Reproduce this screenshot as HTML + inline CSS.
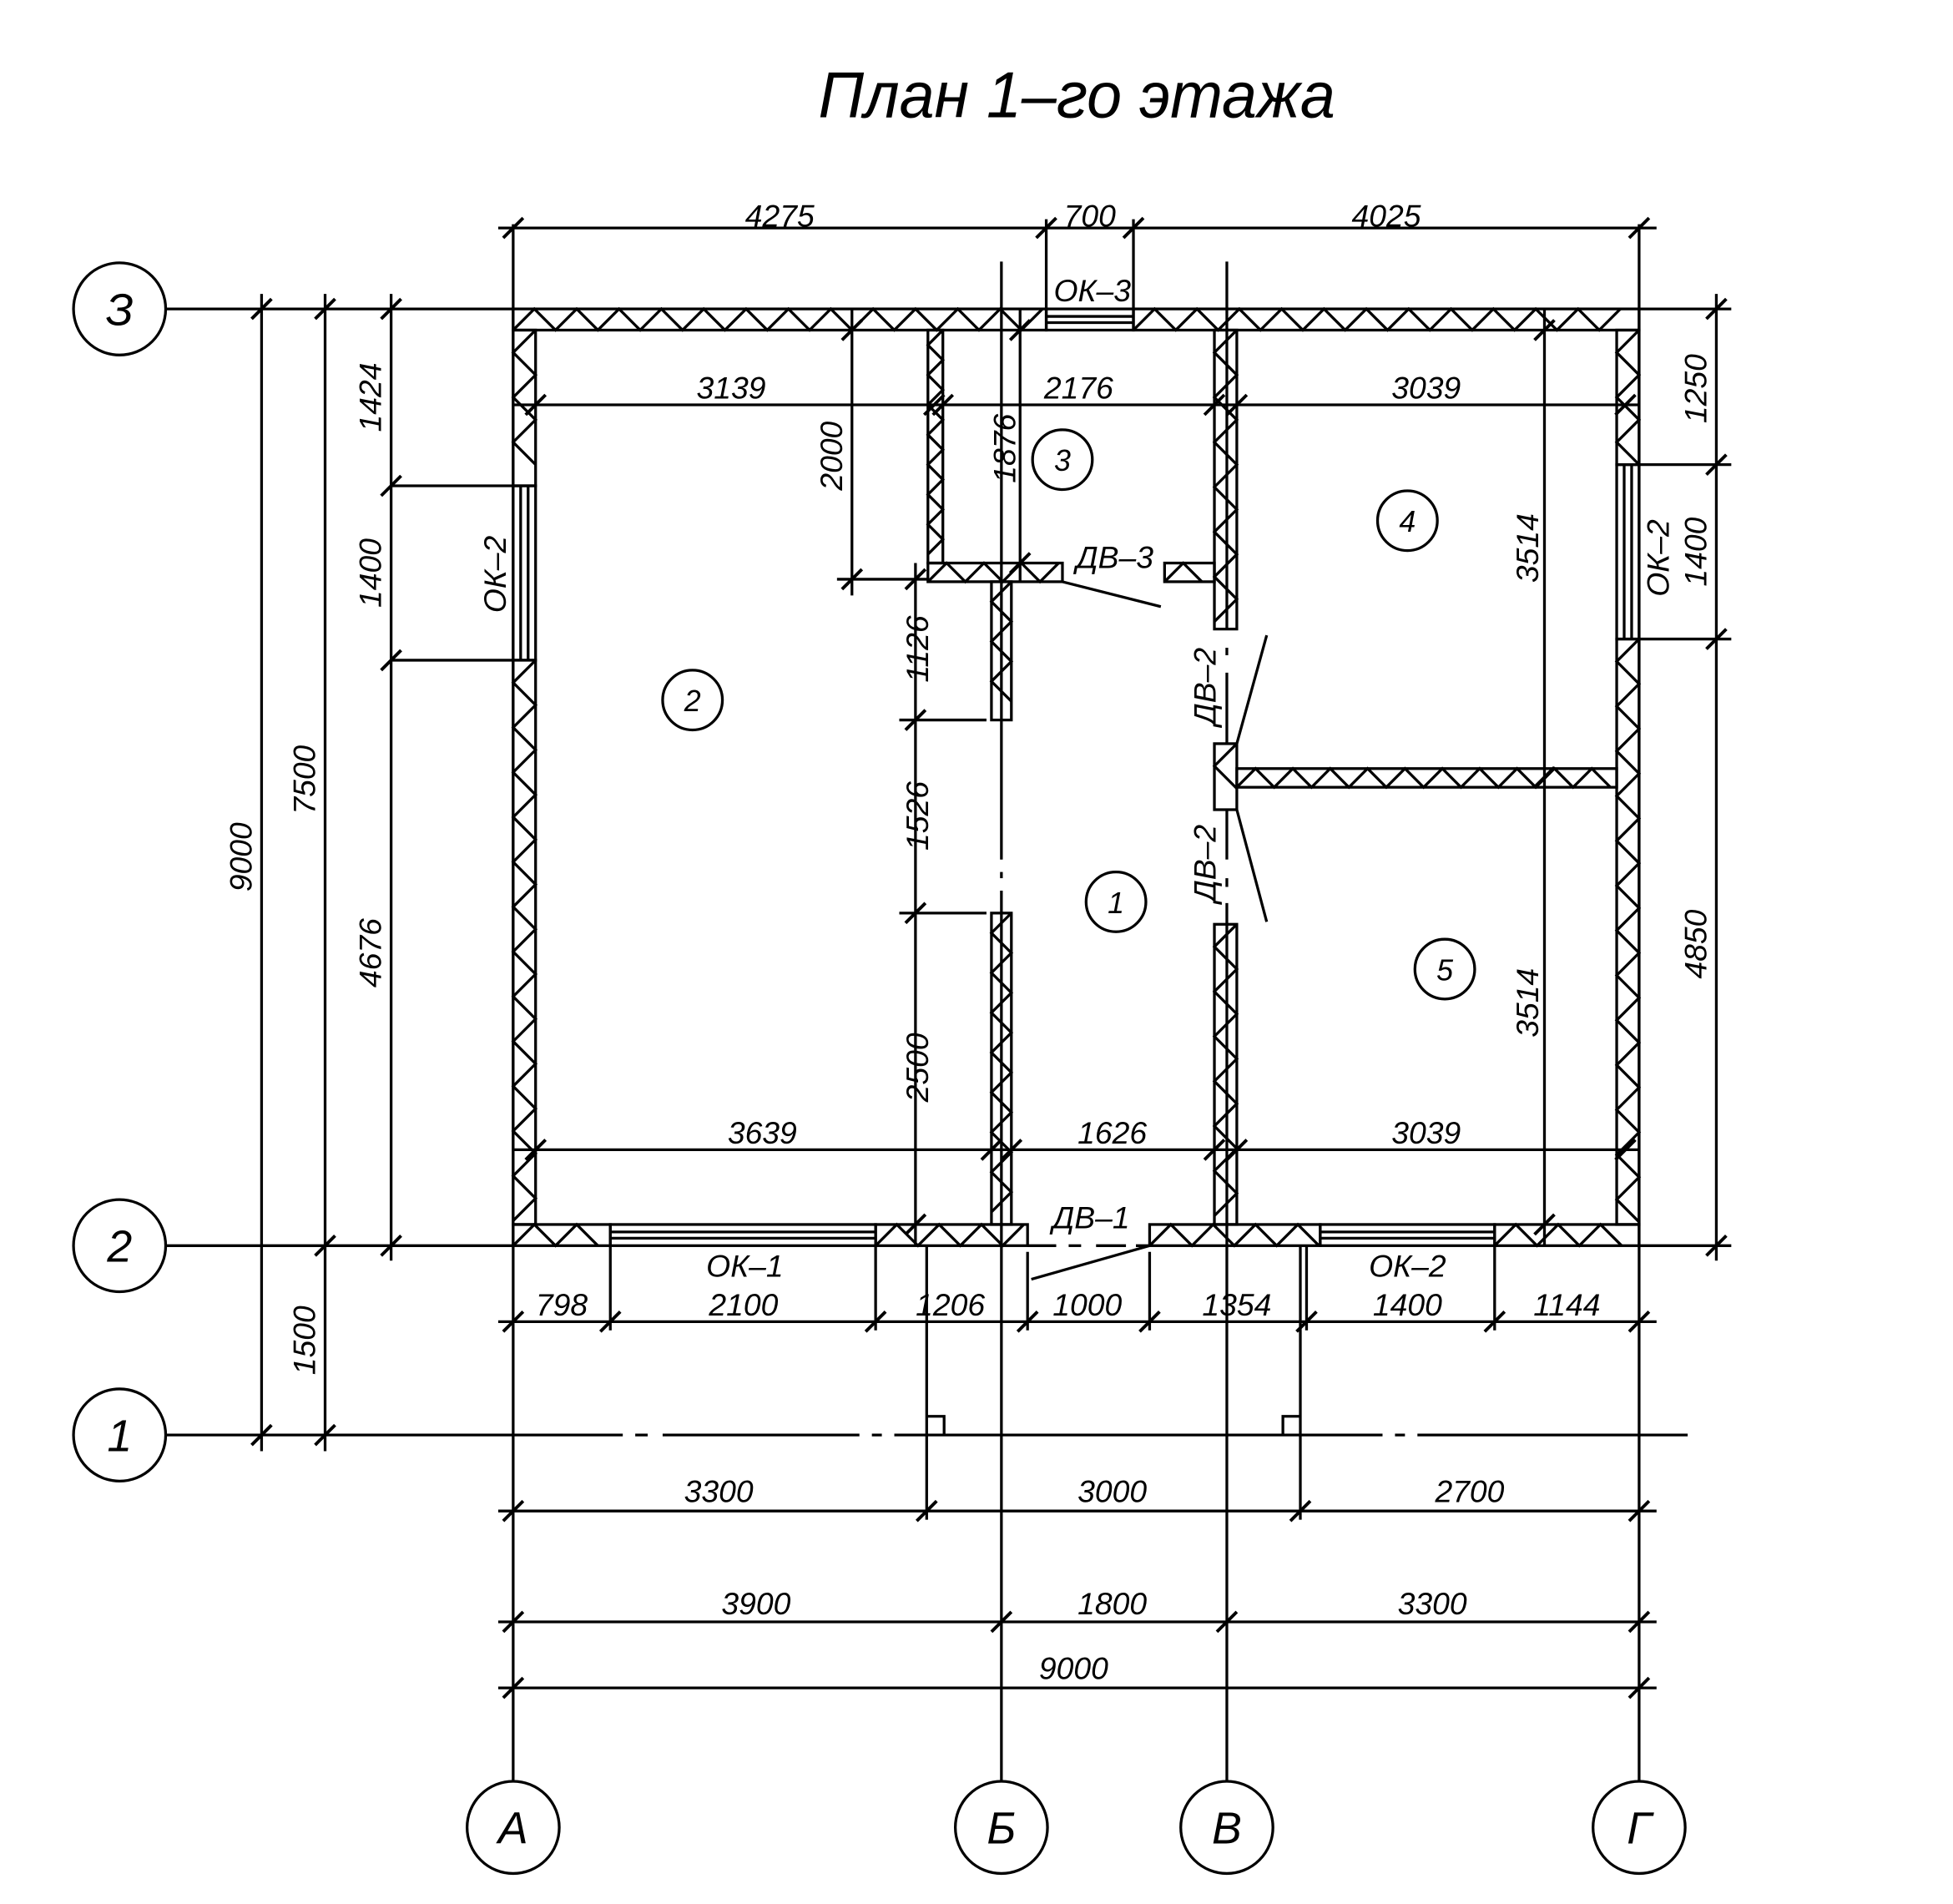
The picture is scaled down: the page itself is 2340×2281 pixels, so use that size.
<!DOCTYPE html>
<html><head><meta charset="utf-8"><style>
html,body{margin:0;padding:0;background:#fff;}
svg{display:block}
text{font-family:"Liberation Sans",sans-serif;font-style:italic;fill:#000;}
</style></head><body>
<svg id="s" width="2340" height="2281" viewBox="0 0 1568 1528.5" xmlns="http://www.w3.org/2000/svg">
<rect width="1568" height="1529" fill="#fff"/>
<g id="g" stroke="#000" stroke-width="2.2" fill="none" stroke-linecap="butt">
<line x1="412" y1="180" x2="412" y2="1430"/>
<line x1="804" y1="210" x2="804" y2="690"/><line x1="804" y1="700" x2="804" y2="705"/><line x1="804" y1="715" x2="804" y2="1430"/>
<line x1="985" y1="210" x2="985" y2="505"/><line x1="985" y1="520" x2="985" y2="526"/><line x1="985" y1="540" x2="985" y2="597"/><line x1="985" y1="650" x2="985" y2="690"/><line x1="985" y1="705" x2="985" y2="712"/><line x1="985" y1="725" x2="985" y2="1430"/>
<line x1="1316" y1="180" x2="1316" y2="1430"/>
<line x1="133" y1="248" x2="412" y2="248"/><line x1="1316" y1="248" x2="1390" y2="248"/>
<line x1="133" y1="1000" x2="412" y2="1000"/><line x1="1316" y1="1000" x2="1390" y2="1000"/>
<line x1="133" y1="1152" x2="500" y2="1152"/><line x1="510" y1="1152" x2="520" y2="1152"/><line x1="532" y1="1152" x2="690" y2="1152"/><line x1="700" y1="1152" x2="708" y2="1152"/><line x1="718" y1="1152" x2="1110" y2="1152"/><line x1="1120" y1="1152" x2="1128" y2="1152"/><line x1="1138" y1="1152" x2="1355" y2="1152"/>
<circle cx="96" cy="248" r="37"/><circle cx="96" cy="1000" r="37"/><circle cx="96" cy="1152" r="37"/>
<circle cx="412" cy="1467" r="37"/><circle cx="804" cy="1467" r="37"/><circle cx="985" cy="1467" r="37"/><circle cx="1316" cy="1467" r="37"/>
<circle cx="556" cy="562" r="24"/><circle cx="853" cy="369" r="24"/><circle cx="1130" cy="418" r="24"/><circle cx="896" cy="724" r="24"/><circle cx="1160" cy="778" r="24"/>
<line x1="400" y1="183" x2="1330" y2="183"/>
<line x1="840" y1="176" x2="840" y2="248"/><line x1="910" y1="176" x2="910" y2="248"/>
<line x1="210" y1="236" x2="210" y2="1165"/>
<line x1="261" y1="236" x2="261" y2="1165"/>
<line x1="314" y1="236" x2="314" y2="1012"/>
<line x1="314" y1="390" x2="412" y2="390"/><line x1="314" y1="530" x2="412" y2="530"/>
<line x1="1378" y1="236" x2="1378" y2="1012"/>
<line x1="1316" y1="373" x2="1390" y2="373"/><line x1="1316" y1="513" x2="1390" y2="513"/>
<line x1="400" y1="1061" x2="1330" y2="1061"/>
<line x1="490" y1="1000" x2="490" y2="1068"/><line x1="703" y1="1000" x2="703" y2="1068"/><line x1="825" y1="1005" x2="825" y2="1068"/><line x1="923" y1="1005" x2="923" y2="1068"/><line x1="1049" y1="1000" x2="1049" y2="1068"/><line x1="1200" y1="1000" x2="1200" y2="1068"/>
<line x1="744" y1="1000" x2="744" y2="1220"/><line x1="1044" y1="1000" x2="1044" y2="1220"/>
<polyline points="744,1137 758,1137 758,1152"/><polyline points="1044,1137 1030,1137 1030,1152"/>
<line x1="400" y1="1213" x2="1330" y2="1213"/>
<line x1="400" y1="1302" x2="1330" y2="1302"/>
<line x1="400" y1="1355" x2="1330" y2="1355"/>
<line x1="412" y1="325" x2="1316" y2="325"/>
<line x1="412" y1="923" x2="1316" y2="923"/>
<line x1="684" y1="248" x2="684" y2="478"/><line x1="672" y1="465" x2="745" y2="465"/>
<line x1="735" y1="452" x2="735" y2="1000"/><line x1="722" y1="578" x2="792" y2="578"/><line x1="722" y1="733" x2="792" y2="733"/>
<line x1="819" y1="248" x2="819" y2="467"/>
<line x1="1240" y1="248" x2="1240" y2="1000"/>
<line x1="853" y1="467" x2="932" y2="487"/>
<line x1="1017" y1="510" x2="993" y2="597"/>
<line x1="993" y1="650" x2="1017" y2="740"/>
<line x1="828" y1="1027" x2="923" y2="1000"/>
<line x1="825" y1="1000" x2="848" y2="1000"/><line x1="858" y1="1000" x2="868" y2="1000"/><line x1="880" y1="1000" x2="904" y2="1000"/><line x1="912" y1="1000" x2="923" y2="1000"/>
<rect x="412" y="390" width="18" height="140"/><line x1="418" y1="390" x2="418" y2="530"/><line x1="424" y1="390" x2="424" y2="530"/>
<rect x="1298" y="373" width="18" height="140"/><line x1="1304" y1="373" x2="1304" y2="513"/><line x1="1310" y1="373" x2="1310" y2="513"/>
<rect x="840" y="248" width="70" height="17"/><line x1="840" y1="254" x2="910" y2="254"/><line x1="840" y1="259" x2="910" y2="259"/>
<rect x="490" y="983" width="213" height="17"/><line x1="490" y1="989" x2="703" y2="989"/><line x1="490" y1="994" x2="703" y2="994"/>
<rect x="1060" y="983" width="140" height="17"/><line x1="1060" y1="989" x2="1200" y2="989"/><line x1="1060" y1="994" x2="1200" y2="994"/>
</g>
<g font-size="25" text-anchor="middle">
<text x="657" y="94" font-size="52" text-anchor="start" textLength="415" lengthAdjust="spacingAndGlyphs">План 1–го этажа</text>
<text x="626" y="182">4275</text><text x="875" y="182">700</text><text x="1113" y="182">4025</text>
<text x="877" y="242">ОК–3</text>
<text x="587" y="320">3139</text><text x="866" y="320">2176</text><text x="1145" y="320">3039</text>
<text x="612" y="918">3639</text><text x="893" y="918">1626</text><text x="1145" y="918">3039</text>
<text x="895" y="456">ДВ–3</text><text x="876" y="986">ДВ–1</text>
<text x="598" y="1025">ОК–1</text><text x="1130" y="1025">ОК–2</text>
<text x="451" y="1056">798</text><text x="597" y="1056">2100</text><text x="763" y="1056">1206</text><text x="873" y="1056">1000</text><text x="993" y="1056">1354</text><text x="1130" y="1056">1400</text><text x="1258" y="1056">1144</text>
<text x="577" y="1206">3300</text><text x="893" y="1206">3000</text><text x="1180" y="1206">2700</text>
<text x="607" y="1296">3900</text><text x="893" y="1296">1800</text><text x="1150" y="1296">3300</text>
<text x="862" y="1348">9000</text>
<text x="96" y="261" font-size="36">З</text><text x="96" y="1013" font-size="36">2</text><text x="96" y="1165" font-size="36">1</text>
<text x="412" y="1480" font-size="36">А</text><text x="804" y="1480" font-size="36">Б</text><text x="985" y="1480" font-size="36">В</text><text x="1316" y="1480" font-size="36">Г</text>
<text x="556" y="571" font-size="24">2</text><text x="853" y="378" font-size="24">3</text><text x="1130" y="427" font-size="24">4</text><text x="896" y="733" font-size="24">1</text><text x="1160" y="787" font-size="24">5</text>
<g transform="rotate(-90)">
<text x="-688" y="202">9000</text><text x="-626" y="253">7500</text><text x="-1076" y="253">1500</text>
<text x="-319" y="306">1424</text><text x="-460" y="306">1400</text><text x="-765" y="306">4676</text>
<text x="-312" y="1370">1250</text><text x="-443" y="1370">1400</text><text x="-758" y="1370">4850</text>
<text x="-461" y="406">ОК–2</text><text x="-448" y="1340">ОК–2</text>
<text x="-366" y="676">2000</text><text x="-360" y="815">1876</text>
<text x="-521" y="745">1126</text><text x="-655" y="745">1526</text><text x="-857" y="745">2500</text>
<text x="-440" y="1235">3514</text><text x="-805" y="1235">3514</text>
<text x="-551" y="976">ДВ–2</text><text x="-693" y="976">ДВ–2</text>
</g>
</g>
</svg>
<script>
(function(){
var NS="http://www.w3.org/2000/svg",g=document.getElementById("g");
function el(n,a){var e=document.createElementNS(NS,n);for(var k in a)e.setAttribute(k,a[k]);g.appendChild(e);return e;}
function hw(x0,x1,y0,y1){el("rect",{x:x0,y:y0,width:x1-x0,height:y1-y0});var s=y1-y0,p=[],t=0;for(var x=x0;x<=x1+0.1;x+=s){p.push(x+","+(t?y0:y1));t^=1;}el("polyline",{points:p.join(" ")});}
function vw(x0,x1,y0,y1){el("rect",{x:x0,y:y0,width:x1-x0,height:y1-y0});var s=x1-x0,p=[],t=0;for(var y=y0;y<=y1+0.1;y+=s){p.push((t?x0:x1)+","+y);t^=1;}el("polyline",{points:p.join(" ")});}
hw(412,840,248,265);hw(910,1316,248,265);
vw(412,430,265,390);vw(412,430,530,983);
vw(1298,1316,265,373);vw(1298,1316,513,983);
hw(412,490,983,1000);hw(703,825,983,1000);hw(923,1060,983,1000);hw(1200,1316,983,1000);
vw(745,757,265,452);hw(745,853,452,467);hw(935,975,452,467);
vw(796,812,467,578);vw(796,812,733,983);
vw(975,993,265,505);vw(975,993,597,650);vw(975,993,742,983);
hw(993,1298,617,632);
function tk(x,y){el("line",{x1:x-8,y1:y+8,x2:x+8,y2:y-8,"stroke-width":2.6});}
[412,840,910,1316].forEach(function(x){tk(x,183);});
[248,1152].forEach(function(y){tk(210,y);});
[248,1000,1152].forEach(function(y){tk(261,y);});
[248,390,530,1000].forEach(function(y){tk(314,y);});
[248,373,513,1000].forEach(function(y){tk(1378,y);});
[412,490,703,825,923,1049,1200,1316].forEach(function(x){tk(x,1061);});
[412,744,1044,1316].forEach(function(x){tk(x,1213);});
[412,804,985,1316].forEach(function(x){tk(x,1302);});
[412,1316].forEach(function(x){tk(x,1355);});
[430,750,757,975,993,1305].forEach(function(x){tk(x,325);});
[430,796,812,975,993,1305].forEach(function(x){tk(x,923);});
[265,465].forEach(function(y){tk(684,y);});
[465,578,733,983].forEach(function(y){tk(735,y);});
[265,452].forEach(function(y){tk(819,y);});
[265,624,983].forEach(function(y){tk(1240,y);});
})();
</script>
</body></html>
